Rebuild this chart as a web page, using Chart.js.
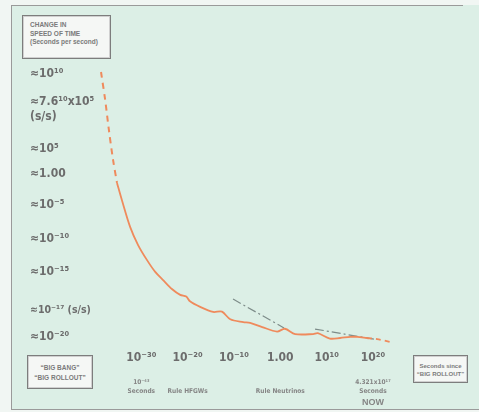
<!DOCTYPE html>
<html>
<head>
<meta charset="utf-8">
<script src="https://cdn.jsdelivr.net/npm/chart.js@4.4.1/dist/chart.umd.min.js"></script>
<style>
  html, body { margin: 0; padding: 0; background: #f1f6f3; }
  #wrap { position: relative; width: 479px; height: 412px; overflow: hidden; }
  #frame {
    position: absolute; left: 11px; top: 5px; width: 468px; height: 404px;
    background: #dcefe6; border-left: 1.5px solid #9a9a9a; border-bottom: 1.5px solid #9a9a9a;
  }
  #topline { position: absolute; left: 11px; top: 5px; width: 452px; height: 0; border-top: 1.5px solid #9a9a9a; }
  canvas { position: absolute; left: 0; top: 0; }
  .box {
    position: absolute; box-sizing: border-box; background: #f5f7f5;
    border: 1.5px solid #7d7d7d; box-shadow: inset 0 0 0 1px #d0d0d0;
    font-family: "Liberation Sans", Arial, sans-serif; color: #7a7a7a; font-weight: bold;
    font-size: 6.5px; line-height: 8.5px; z-index: 2;
  }
</style>
</head>
<body>
<div id="wrap">
  <div id="frame"></div>
  <div id="topline"></div>
  <canvas id="speedChart" width="479" height="412"></canvas>
  <div class="box" style="left:22px; top:15px; width:89px; height:44px; padding:5px 0 0 7px;">
    CHANGE IN<br>SPEED OF TIME<br>(Seconds per second)
  </div>
  <div class="box" style="left:27px; top:355px; width:66px; height:34px; padding:7px 0 0 0; text-align:center; line-height:10px;">
    “BIG BANG”<br>“BIG ROLLOUT”
  </div>
  <div class="box" style="left:413px; top:355px; width:55px; height:28px; padding:6px 0 0 0; text-align:center; line-height:8px; font-size:6px;">
    Seconds since<br>“BIG ROLLOUT”
  </div>
</div>
<script>
// =========================================================
// Datos (x = log10 segundos, y = nivel 0..100)
// =========================================================

const yLevels = [97, 84, 70, 61, 50, 38, 26, 12.5, 3];
const yLabels = ['≈10¹⁰', ['≈7.6¹⁰x10⁵', '(s/s)'], '≈10⁵', '≈1.00', '≈10⁻⁵', '≈10⁻¹⁰', '≈10⁻¹⁵', '≈10⁻¹⁷ (s/s)', '≈10⁻²⁰'];

const xTicks = [-30, -20, -10, 0, 10, 20];
const xLabels = ['10⁻³⁰', '10⁻²⁰', '10⁻¹⁰', '1.00', '10¹⁰', '10²⁰'];

const xNoteTicks = [-30, -20, 0, 20];
const xNotes = [['10⁻⁴³', 'Seconds'], ['', 'Rule HFGWs'], ['', 'Rule Neutrinos'], ['4.321x10¹⁷', 'Seconds']];
const nowTick = [20];
const nowLabel = ['NOW'];

// tramo inicial (punteado)
const bangX = [-38.7, -37.8, -37.0, -36.1, -35.25];
const bangY = [97.5, 87.5, 76.8, 66.1, 57.9];

// curva principal
const curveX = [-35.25, -34.2, -32.4, -30.7, -28.8, -27.0, -25.3, -23.4, -21.6, -20.3, -19.5, -17.3,
                -14.5, -12.6, -10.8, -8.0, -6.5, -3.9, -0.7, 1.0, 3.2, 7.1, 8.1, 10.7, 12.9, 15.1, 16.6, 18.7];
const curveY = [57.9, 51.8, 42.1, 35.7, 30.4, 26.1, 23.2, 20.0, 17.9, 17.3, 15.6, 13.6,
                11.8, 11.9, 9.2, 8.2, 7.9, 6.4, 4.8, 5.8, 3.9, 3.9, 4.2, 2.3, 2.5, 2.9, 2.9, 2.5];

// final (punteado)
const tailX = [18.7, 20.9, 23.7];
const tailY = [2.5, 2.1, 1.1];

// tendencias (raya-punto)
const trend1X = [-10.2, 0.8];
const trend1Y = [16.4, 6.1];
const trend2X = [7.5, 20.2];
const trend2Y = [5.7, 2.1];

const ORANGE = '#ef8a5c';
const GREY_LINE = '#7d8c89';
const TEXT = '#6c6c6c';
const FONT = '"Liberation Sans", Arial, sans-serif';
const TICK_FONT = '"DejaVu Sans Condensed", "DejaVu Sans", sans-serif';

function pts(xs, ys) {
    return xs.map((x, i) => ({ x: x, y: ys[i] }));
}

function lineSet(xs, ys, color, width, dash) {
    return {
        data: pts(xs, ys),
        borderColor: color,
        borderWidth: width,
        borderDash: dash,
        pointRadius: 0,
        tension: 0.3,
        fill: false,
        clip: false
    };
}

function fixedTicks(values) {
    return (scale) => { scale.ticks = values.map(v => ({ value: v })); };
}

const hiddenGrid = { display: false, drawTicks: false };

new Chart(document.getElementById('speedChart'), {
    type: 'line',
    data: {
        datasets: [
            lineSet(bangX, bangY, ORANGE, 2, [6, 5]),
            lineSet(curveX, curveY, ORANGE, 1.8, []),
            lineSet(tailX, tailY, ORANGE, 1.8, [5, 4]),
            lineSet(trend1X, trend1Y, GREY_LINE, 1.2, [9, 3, 2, 3]),
            lineSet(trend2X, trend2Y, GREY_LINE, 1.2, [9, 3, 2, 3])
        ]
    },
    options: {
        responsive: false,
        animation: false,
        devicePixelRatio: 1,
        layout: { padding: { left: 30, right: 69, top: 65, bottom: 0 } },
        plugins: { legend: { display: false }, tooltip: { enabled: false } },
        scales: {
            x: {
                type: 'linear', min: -40, max: 28, weight: 0,
                grid: hiddenGrid, border: { display: false },
                afterBuildTicks: fixedTicks(xTicks),
                afterFit: (s) => { s.height = 20; },
                ticks: {
                    autoSkip: false, maxRotation: 0, padding: 6, color: TEXT,
                    font: { family: TICK_FONT, size: 12, weight: 'bold' },
                    callback: (v, i) => xLabels[i]
                }
            },
            x2: {
                type: 'linear', position: 'bottom', min: -40, max: 28, weight: 1,
                grid: hiddenGrid, border: { display: false },
                afterBuildTicks: fixedTicks(xNoteTicks),
                afterFit: (s) => { s.height = 28; },
                ticks: {
                    autoSkip: false, maxRotation: 0, padding: 13, color: '#858585',
                    font: { family: TICK_FONT, size: 6.5, weight: 'bold', lineHeight: 1.35 },
                    callback: (v, i) => xNotes[i]
                }
            },
            x3: {
                type: 'linear', position: 'bottom', min: -40, max: 28, weight: 2,
                grid: hiddenGrid, border: { display: false },
                afterBuildTicks: fixedTicks(nowTick),
                afterFit: (s) => { s.height = 19; },
                ticks: {
                    autoSkip: false, maxRotation: 0, padding: 4, color: '#858585',
                    font: { family: FONT, size: 9, weight: 'bold' },
                    callback: (v, i) => nowLabel[i]
                }
            },
            y: {
                type: 'linear', min: 0, max: 100,
                grid: hiddenGrid, border: { display: false },
                afterBuildTicks: fixedTicks(yLevels),
                afterFit: (s) => { s.width = 65; },
                ticks: {
                    autoSkip: false, crossAlign: 'far', color: TEXT,
                    // la etiqueta larga (s/s) va un poco mas chica para que no se corte
                    font: (ctx) => ({ family: TICK_FONT, size: ctx.index === 7 ? 10.5 : 12, weight: 'bold', lineHeight: 1.25 }),
                    callback: (v, i) => yLabels[i]
                }
            }
        }
    }
});
</script>
</body>
</html>
